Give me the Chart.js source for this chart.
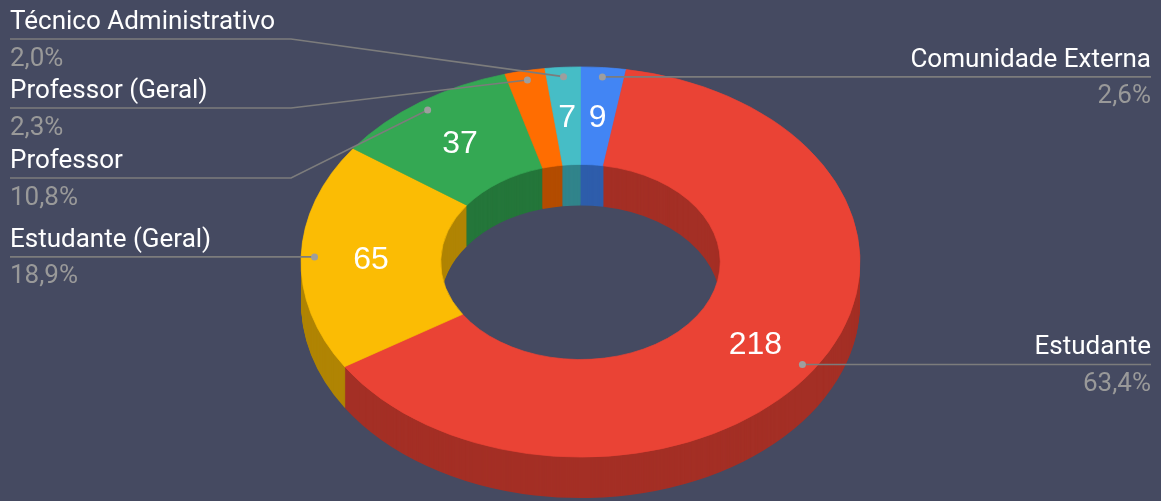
<!DOCTYPE html>
<html><head><meta charset="utf-8">
<script src="https://cdn.jsdelivr.net/npm/chart.js@4.4.1/dist/chart.umd.min.js"></script>
<style>html,body{margin:0;padding:0;background:#454a61;overflow:hidden}</style>
</head><body>
<canvas id="c" width="1161" height="501" style="display:block;width:1161px;height:501px"></canvas>
<script>
const categories = ['Comunidade Externa','Estudante','Estudante (Geral)','Professor','Professor (Geral)','Técnico Administrativo'];
const values = [9, 218, 65, 37, 8, 7];
const colors = ['#4285f4','#ea4335','#fbbc04','#34a853','#ff6d01','#46bdc6'];
const showValue = [true, true, true, true, false, true];
const labelLineY = [null, null, null, 178, 108, 39];

const CX = 580.5, CY = 262, TILT = 0.698, DEPTH = 41, RADIUS = 279.5;
const FONT = 'Roboto, "Noto Sans", sans-serif';
const VFONT = '"Liberation Sans", Arial, sans-serif';
const total = values.reduce((a, b) => a + b, 0);

function darken(hex, f) {
  const n = parseInt(hex.slice(1), 16);
  const r = Math.round(((n >> 16) & 255) * f), g = Math.round(((n >> 8) & 255) * f), b = Math.round((n & 255) * f);
  return `rgb(${r},${g},${b})`;
}
const sideColors = colors.map(c => darken(c, 0.7));

function project(r, m) {
  return { x: CX + r * Math.cos(m), y: CY + r * Math.sin(m) * TILT };
}

const tiltPlugin = {
  id: 'tilt',
  beforeDatasetsDraw(chart) {
    const ctx = chart.ctx;
    const arcs = chart.getDatasetMeta(0).data;
    if (!arcs.length) return;
    const ox = arcs[0].x, oy = arcs[0].y;
    for (let d = DEPTH; d >= 1; d--) {
      ctx.save();
      ctx.translate(CX, CY + d); ctx.scale(1, TILT); ctx.translate(-ox, -oy);
      arcs.forEach((a, i) => {
        const p = a.getProps(['startAngle', 'endAngle', 'innerRadius', 'outerRadius']);
        ctx.beginPath();
        ctx.arc(ox, oy, p.outerRadius, p.startAngle, p.endAngle);
        ctx.arc(ox, oy, p.innerRadius, p.endAngle, p.startAngle, true);
        ctx.closePath();
        ctx.fillStyle = sideColors[i];
        ctx.fill();
      });
      ctx.restore();
    }
    ctx.save();
    ctx.translate(CX, CY); ctx.scale(1, TILT); ctx.translate(-ox, -oy);
  },
  afterDatasetsDraw(chart) {
    const ctx = chart.ctx;
    ctx.restore();
    const arcs = chart.getDatasetMeta(0).data;
    ctx.save();
    // value labels
    ctx.fillStyle = '#ffffff';
    ctx.font = '32px ' + VFONT;
    ctx.textAlign = 'center';
    ctx.textBaseline = 'middle';
    arcs.forEach((a, i) => {
      if (!showValue[i]) return;
      const p = a.getProps(['startAngle', 'endAngle', 'innerRadius', 'outerRadius']);
      const m = (p.startAngle + p.endAngle) / 2;
      const pt = project((p.innerRadius + p.outerRadius) / 2, m);
      ctx.fillText(String(values[i]), pt.x, pt.y + 2);
    });
    // leader lines and labels
    arcs.forEach((a, i) => {
      const p = a.getProps(['startAngle', 'endAngle', 'innerRadius', 'outerRadius']);
      const m = (p.startAngle + p.endAngle) / 2;
      const dot = project(p.outerRadius * 0.952, m);
      const right = Math.cos(m) > 0;
      const L = labelLineY[i] == null ? dot.y : labelLineY[i];
      ctx.strokeStyle = '#7c7c7c';
      ctx.lineWidth = 1.6;
      ctx.beginPath();
      if (right) {
        ctx.moveTo(dot.x, dot.y);
        ctx.lineTo(1151, L);
      } else {
        ctx.moveTo(10, L);
        if (labelLineY[i] != null) ctx.lineTo(291, L);
        ctx.lineTo(dot.x, dot.y);
      }
      ctx.stroke();
      ctx.fillStyle = '#9e9e9e';
      ctx.beginPath();
      ctx.arc(dot.x, dot.y, 3.5, 0, Math.PI * 2);
      ctx.fill();
      const pct = (values[i] / total * 100).toFixed(1).replace('.', ',') + '%';
      ctx.font = '26px ' + FONT;
      ctx.textBaseline = 'alphabetic';
      ctx.textAlign = right ? 'right' : 'left';
      const tx = right ? 1151 : 10;
      ctx.fillStyle = '#ffffff';
      ctx.fillText(categories[i], tx, L - 10);
      ctx.fillStyle = '#999999';
      ctx.fillText(pct, tx, L + 26.5);
    });
    ctx.restore();
  }
};

new Chart(document.getElementById('c'), {
  type: 'doughnut',
  data: {
    labels: categories,
    datasets: [{
      data: values,
      backgroundColor: colors,
      borderColor: colors,
      borderWidth: 0.8,
      radius: RADIUS,
      cutout: '50%'
    }]
  },
  options: {
    responsive: false,
    animation: false,
    events: [],
    layout: { padding: 0 },
    plugins: { legend: { display: false }, tooltip: { enabled: false } }
  },
  plugins: [tiltPlugin]
});
</script>
</body></html>
